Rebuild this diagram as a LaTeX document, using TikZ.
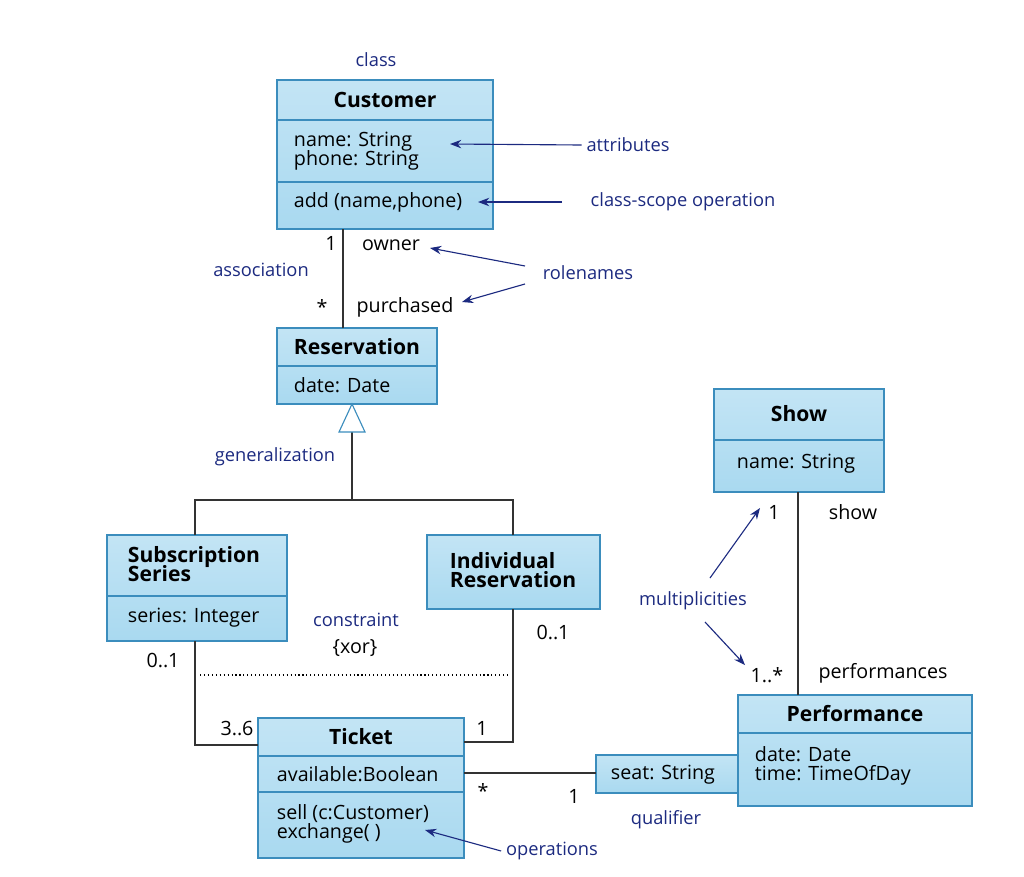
\documentclass[tikz,border=0pt]{standalone}
\usepackage{fontspec}
\setmainfont{Open Sans}
\usetikzlibrary{arrows.meta,positioning}
\definecolor{boxfill}{HTML}{A9D9F0}
\definecolor{boxline}{HTML}{3B8DBD}
\definecolor{navy}{HTML}{1C2A80}
\tikzset{
  cls/.style={draw=boxline,thick,top color=boxfill!70,bottom color=boxfill},
  txt/.style={font=\fontsize{14}{16}\selectfont,anchor=west,align=left},
  ttl/.style={font=\fontsize{15}{17}\selectfont\bfseries,align=left},
  note/.style={font=\fontsize{13}{15}\selectfont,text=navy},
  lbl/.style={font=\fontsize{14}{16}\selectfont},
  pointer/.style={->,>={Stealth[length=8pt,width=6pt]},navy,thick},
  link/.style={draw=black!80,thick}
}
\begin{document}
\begin{tikzpicture}[x=0.025cm,y=-0.025cm]
\useasboundingbox (0,0) rectangle (1024,876);

% Customer
\draw[cls] (277,80) rectangle (493,229);
\draw[boxline,thick] (277,120)--(493,120) (277,182)--(493,182);
\node[ttl] (cust) at (385,100) {Customer};
\node[txt] (custa) at (289,151) {name: String\\[-2pt]phone: String};
\node[txt] (custo) at (289,202) {add (name,phone)};
\node[note] (lclass) at (376,60) {class};

% Reservation
\draw[cls] (277,328) rectangle (437,404);
\draw[boxline,thick] (277,366)--(437,366);
\node[ttl] (res) at (357,347) {Reservation};
\node[txt] (resa) at (289,385) {date: Date};

% Subscription Series
\draw[cls] (107,535) rectangle (287,641);
\draw[boxline,thick] (107,596)--(287,596);
\node[ttl,anchor=west] (sub) at (123,564) {Subscription\\[-3pt]Series};
\node[txt] (suba) at (123,618) {series: Integer};

% Individual Reservation
\draw[cls] (427,535) rectangle (600,609);
\node[ttl,anchor=west] (ind) at (445,570) {Individual\\[-3pt]Reservation};

% Show
\draw[cls] (714,389) rectangle (884,492);
\draw[boxline,thick] (714,440)--(884,440);
\node[ttl] (show) at (799,414) {Show};
\node[txt] (showa) at (732,464) {name: String};

% Ticket
\draw[cls] (258,718) rectangle (464,858);
\draw[boxline,thick] (258,756)--(464,756) (258,792)--(464,792);
\node[ttl] (tick) at (361,737) {Ticket};
\node[txt] (ticka) at (272,774) {available:Boolean};
\node[txt] (ticko) at (272,824) {sell (c:Customer)\\[-2pt]exchange( )};

% Performance
\draw[cls] (738,695) rectangle (972,806);
\draw[boxline,thick] (738,733)--(972,733);
\node[ttl] (perf) at (855,714) {Performance};
\node[txt] (perfa) at (750,766) {date: Date\\[-2pt]time: TimeOfDay};

% qualifier
\draw[cls] (596,755) rectangle (738,793);
\node[txt] (seat) at (606,775) {seat: String};

% connectors
\draw[link] (343,229)--(343,328);
\draw[link] (195,535)--(195,500)--(513,500)--(513,535);
\draw[link] (352,500)--(352,432);
\draw[boxline,thick,fill=white] (352,404)--(339,432)--(365,432)--cycle;
\draw[link] (195,641)--(195,745)--(258,745);
\draw[link] (513,609)--(513,742)--(464,742);
\draw[dotted,thick] (200,675)--(510,675);
\draw[link] (798,492)--(798,695);
\draw[link] (464,773)--(596,773);

% labels
\node[lbl] at (331,243) {1};
\node[lbl] (owner) at (391,245) {owner};
\node[lbl] at (322,307) {*};
\node[lbl] (purch) at (405,307) {purchased};
\node[lbl] at (163,660) {0..1};
\node[lbl] at (237,728) {3..6};
\node[lbl] at (553,632) {0..1};
\node[lbl] at (482,728) {1};
\node[lbl] at (774,512) {1};
\node[lbl] at (853,512) {show};
\node[lbl] at (767,675) {1..*};
\node[lbl] at (883,673) {performances};
\node[lbl] at (483,791) {*};
\node[lbl] at (574,796) {1};

% notes
\node[note] (nattr) at (628,145) {attributes};
\node[note] (nops) at (683,202) {class-scope operation};
\node[note] (nrole) at (588,273) {rolenames};
\node[note] at (261,270) {association};
\node[note] at (275,457) {generalization};
\node[note] at (356,620) {constraint};
\node[lbl] at (355,648) {\{xor\}};
\node[note] (nmult) at (693,601) {multiplicities};
\node[note] (nqual) at (666,820) {qualifier};
\node[note] (noper) at (552,851) {operations};

\coordinate (a1) at (450,144);
\coordinate (a2) at (478,202);
\coordinate (a3) at (430,248);
\coordinate (a4) at (462,302);
\coordinate (a5) at (760,508);
\coordinate (a6) at (745,665);
\coordinate (a7) at (425,830);
\draw[pointer] (nattr.west)--(a1);
\draw[pointer] (562,202)--(a2);
\draw[pointer] (525,266)--(a3);
\draw[pointer] (525,284)--(a4);
\draw[pointer] (710,578)--(a5);
\draw[pointer] (705,622)--(a6);
\draw[pointer] (noper.west)--(a7);
\end{tikzpicture}
\end{document}
